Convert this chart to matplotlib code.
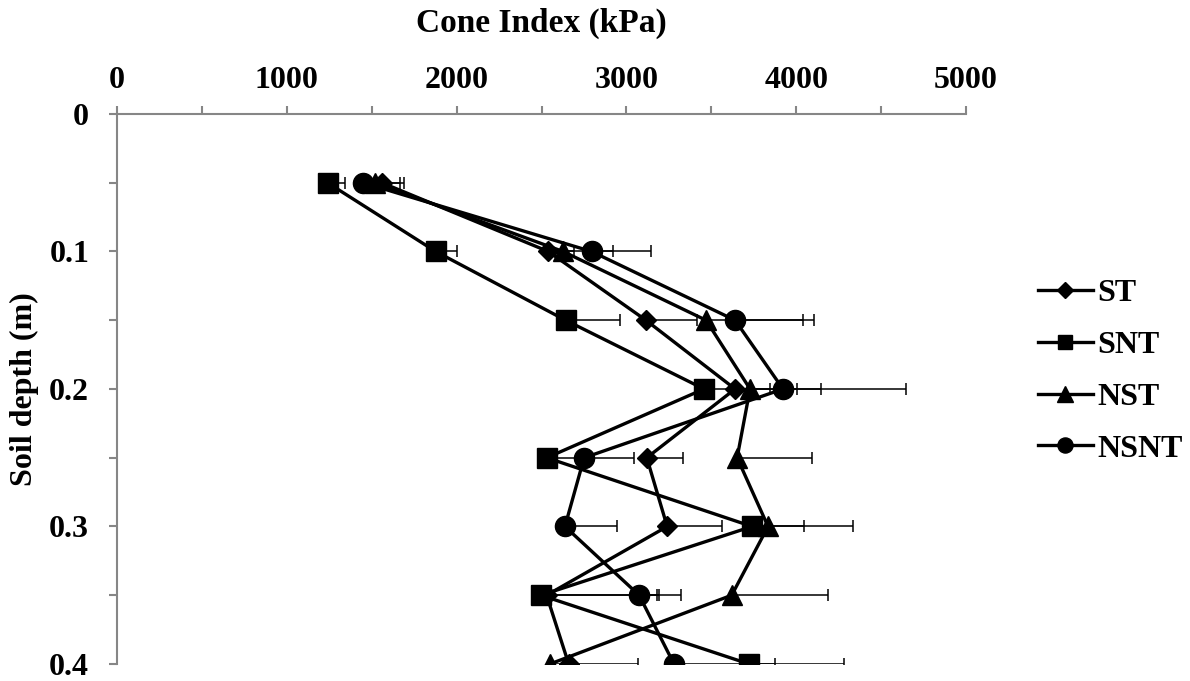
import matplotlib
matplotlib.use("Agg")
import matplotlib.pyplot as plt
import numpy as np

plt.rcParams['font.family'] = ['Liberation Serif', 'DejaVu Serif']
plt.rcParams['font.weight'] = 'bold'

# soil depth (m) and mean cone index (kPa) per treatment
depth = [0.05, 0.10, 0.15, 0.20, 0.25, 0.30, 0.35, 0.40]

st = [1560, 2540, 3115, 3640, 3120, 3240, 2530, 2660]
snt = [1240, 1877, 2642, 3457, 2531, 3740, 2497, 3722]
nst = [1520, 2627, 3469, 3728, 3652, 3834, 3620, 2550]
nsnt = [1450, 2795, 3640, 3922, 2751, 2638, 3075, 3280]

# positive standard deviation bars
st_err = [130, 150, 300, 506, 212, 324, 660, 407]
snt_err = [100, 123, 320, 548, 200, 306, 683, 560]
nst_err = [147, 295, 571, 120, 441, 501, 567, 100]
nsnt_err = [100, 350, 465, 723, 294, 307, 247, 595]

series = [
    ('ST', st, st_err, 'D', 10.5),
    ('SNT', snt, snt_err, 's', 14),
    ('NST', nst, nst_err, '^', 15),
    ('NSNT', nsnt, nsnt_err, 'o', 14.5),
]

fig = plt.figure(figsize=(11.9, 6.81), dpi=100)
ax = fig.add_axes([0.0983, 0.025, 0.7135, 0.8076])

for name, vals, err, mk, ms in series:
    ax.errorbar(vals, depth, xerr=[np.zeros(len(err)), err],
                fmt='none', ecolor='black', elinewidth=1.1, capsize=4, capthick=1.1)
    ax.plot(vals, depth, color='black', lw=2.4, marker=mk, ms=ms,
            mfc='black', mec='black', label=name)

ax.set_xlim(0, 5000)
ax.set_ylim(0.4, 0)
ax.xaxis.tick_top()
ax.xaxis.set_label_position('top')
ax.set_xticks(np.arange(0, 5001, 1000))
ax.set_xticks(np.arange(500, 5000, 1000), minor=True)
ax.set_yticks(np.arange(0, 0.41, 0.1))
ax.set_yticks(np.arange(0.05, 0.4, 0.1), minor=True)
ax.set_yticklabels(['0', '0.1', '0.2', '0.3', '0.4'])

grey = '#868686'
for side in ['right', 'bottom']:
    ax.spines[side].set_visible(False)
for side in ['top', 'left']:
    ax.spines[side].set_color(grey)
    ax.spines[side].set_linewidth(1.5)

ax.tick_params(which='both', color=grey, width=1.5, direction='out')
ax.tick_params(which='major', length=6, labelsize=23)
ax.tick_params(which='minor', length=6)
ax.tick_params(axis='x', which='major', pad=8)
ax.tick_params(axis='y', which='major', pad=14)

ax.set_xlabel('Cone Index (kPa)', fontsize=24, fontweight='bold', labelpad=24)
ax.set_ylabel('Soil depth (m)', fontsize=23, fontweight='bold', labelpad=7)

leg = ax.legend(loc='center left', bbox_to_anchor=(1.085, 0.532), frameon=False,
                fontsize=23, handlelength=1.7, handletextpad=0.15,
                borderpad=0, borderaxespad=0,
                markerscale=0.75, labelspacing=0.7)

fig.savefig('out.png', dpi=100)
